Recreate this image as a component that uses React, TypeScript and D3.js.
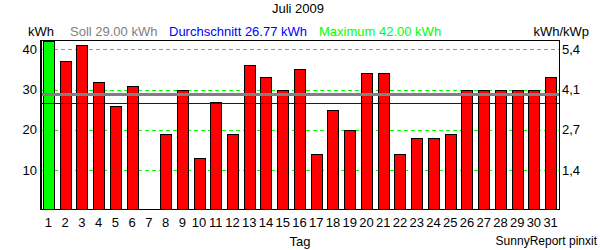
import React from "react";
import * as d3 from "d3";

const days = Array.from({ length: 31 }, (_, i) => String(i + 1));
const values = [42, 37, 41, 32, 26, 31, 0, 19, 30, 13, 27, 19, 36, 33, 30, 35, 14, 25, 20, 34, 34, 14, 18, 18, 19, 30, 30, 30, 30, 30, 33];
const leftTicks = [10, 20, 30, 40];
const rightTickLabels = ["1,4", "2,7", "4,1", "5,4"];
const soll = 29.0;
const average = 26.77;
const maximum = 42.0;

const W = 600, H = 250;
const L = 40, R = 559, T = 40, B = 209.5;
const font = "'Liberation Sans', Arial, sans-serif";

export default function App() {
  const x = d3.scaleBand<string>().domain(days).range([L, R]).paddingInner(0.34).paddingOuter(0.17);
  const y = d3.scaleLinear().domain([0, 42.3]).range([210.5, T]);
  const maxV = d3.max(values) as number;

  return (
    <svg width={W} height={H} style={{ position: "absolute", left: 0, top: 0, background: "#fff" }} fontFamily={font}>
      <text x={298} y={13} fontSize={13} textAnchor="middle" fill="#000">Juli 2009</text>
      <text x={28} y={36} fontSize={13} fill="#000">kWh</text>
      <text x={70} y={36} fontSize={13} fill="#808080">Soll {soll.toFixed(2)} kWh</text>
      <text x={169} y={36} fontSize={13} fill="#0000ff">Durchschnitt {average.toFixed(2)} kWh</text>
      <text x={319} y={36} fontSize={13} fill="#00ff00">Maximum {maximum.toFixed(2)} kWh</text>
      <text x={589} y={36} fontSize={13} textAnchor="end" fill="#000">kWh/kWp</text>

      {leftTicks.map((t) => (
        <line key={"g" + t} x1={L} x2={R} y1={Math.round(y(t)) + 0.5} y2={Math.round(y(t)) + 0.5} stroke="#00ff00" strokeDasharray="4,3" />
      ))}

      {values.map((v, i) => {
        if (v <= 0) return null;
        const bx = Math.round(x(days[i]) as number) + 0.5;
        const by = Math.round(y(v)) + 0.5;
        return (
          <rect key={i} x={bx} y={by} width={Math.round(x.bandwidth())} height={B - by}
            fill={v === maxV ? "#00ff00" : "#ff0000"} stroke="#000" strokeWidth={1} />
        );
      })}

      <line x1={L} x2={R} y1={Math.round(y(soll)) + 0.5} y2={Math.round(y(soll)) + 0.5} stroke="#808080" strokeWidth={3} />
      <line x1={L} x2={R} y1={Math.round(y(average)) + 0.5} y2={Math.round(y(average)) + 0.5} stroke="#0000ff" strokeWidth={1} />

      <rect x={L + 0.5} y={T + 0.5} width={R - L} height={B - T - 0.5} fill="none" stroke="#000" strokeWidth={1} />
      <line x1={L + 1.5} x2={L + 1.5} y1={T} y2={B} stroke="#000" />

      {leftTicks.map((t, i) => (
        <g key={"t" + t}>
          <text x={37} y={y(t) + 4.5} fontSize={13} textAnchor="end" fill="#000">{t}</text>
          <text x={562} y={y(t) + 4.5} fontSize={13} fill="#000">{rightTickLabels[i]}</text>
        </g>
      ))}

      {days.map((d) => (
        <text key={"x" + d} x={(x(d) as number) + x.bandwidth() / 2} y={227} fontSize={13} textAnchor="middle" fill="#000">{d}</text>
      ))}
      <text x={300} y={246} fontSize={13} textAnchor="middle" fill="#000">Tag</text>
      <text x={597} y={245} fontSize={12} textAnchor="end" fill="#000">SunnyReport pinxit</text>
    </svg>
  );
}
